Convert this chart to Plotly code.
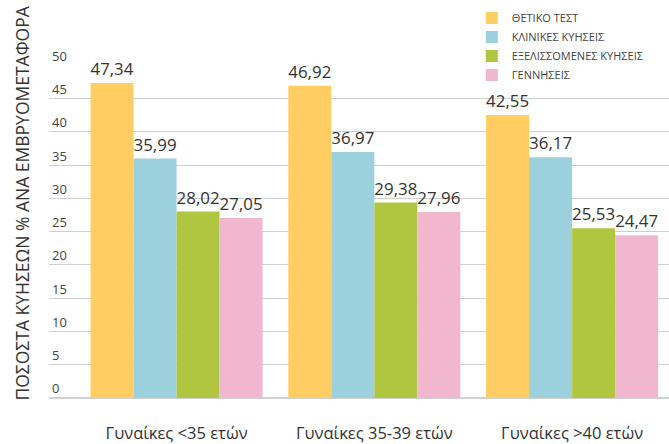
import plotly.graph_objects as go

categories = ["Γυναίκες <35 ετών", "Γυναίκες 35-39 ετών", "Γυναίκες >40 ετών"]
series_names = ["ΘΕΤΙΚΟ ΤΕΣΤ", "ΚΛΙΝΙΚΕΣ ΚΥΗΣΕΙΣ", "ΕΞΕΛΙΣΣΟΜΕΝΕΣ ΚΥΗΣΕΙΣ", "ΓΕΝΝΗΣΕΙΣ"]
thetiko = [47.34, 46.92, 42.55]
klinikes = [35.99, 36.97, 36.17]
exelissomenes = [28.02, 29.38, 25.53]
genniseis = [27.05, 27.96, 24.47]
y_ticks = [0, 5, 10, 15, 20, 25, 30, 35, 40, 45, 50]

colors = ["#FFCD62", "#9CD0DC", "#B0C641", "#F0B7CE"]
series = [thetiko, klinikes, exelissomenes, genniseis]

fig = go.Figure()
for name, vals, col in zip(series_names, series, colors):
    fig.add_trace(go.Bar(
        x=categories, y=vals, name=name,
        marker=dict(color=col, line=dict(width=0)),
        text=[f"{v:.2f}".replace(".", ",") for v in vals],
        textposition="outside",
        textfont=dict(family="Open Sans", size=17, color="#333333"),
        cliponaxis=False,
    ))

fig.update_layout(
    width=669, height=444,
    margin=dict(l=49, r=0, t=65, b=44),
    paper_bgcolor="white", plot_bgcolor="white",
    barmode="group", bargap=0.13, bargroupgap=0,
    showlegend=True,
    legend=dict(
        x=0.682, y=1.185, xanchor="left", yanchor="top",
        bgcolor="white", font=dict(family="Open Sans", size=11, color="#444444"),
        tracegroupgap=2, itemwidth=30, traceorder="normal",
    ),
    xaxis=dict(
        range=[-0.645, 2.49], showgrid=False, zeroline=False, showline=False,
        ticks="outside", ticklen=20, tickcolor="rgba(0,0,0,0)",
        tickfont=dict(family="Open Sans", size=16.5, color="#333333"),
    ),
    yaxis=dict(
        range=[0, 50.05], tickvals=y_ticks, ticktext=[str(t) for t in y_ticks],
        showgrid=True, gridcolor="#D0D0D0", gridwidth=1,
        zeroline=True, zerolinecolor="#D0D0D0",
        ticklabelposition="inside top", ticklabeloverflow="allow",
        tickfont=dict(family="Open Sans", size=13, color="#444444"),
    ),
    annotations=[dict(
        text="ΠΟΣΟΣΤΑ ΚΥΗΣΕΩΝ % ΑΝΑ ΕΜΒΡΥΟΜΕΤΑΦΟΡΑ",
        xref="paper", yref="paper", x=0, y=0.584, xshift=-27,
        xanchor="center", yanchor="middle", textangle=-90, showarrow=False,
        font=dict(family="Open Sans", size=17.5, color="#333333"),
    )],
)

fig.write_html("out.html")
